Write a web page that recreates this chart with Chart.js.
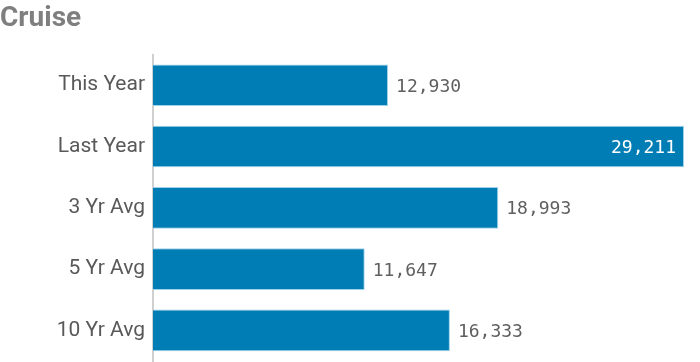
<!DOCTYPE html>
<html>
<head>
<meta charset="utf-8">
<script src="https://cdn.jsdelivr.net/npm/chart.js@4"></script>
<style>
  html, body { margin: 0; padding: 0; background: #fff; }
  #wrap { width: 700px; height: 362px; }
</style>
</head>
<body>
<div id="wrap"><canvas id="barChart" width="700" height="362"></canvas></div>
<script>
const categories = ['This Year', 'Last Year', '3 Yr Avg', '5 Yr Avg', '10 Yr Avg'];
const values = [12930, 29211, 18993, 11647, 16333];

// value labels: outside the bar, or inside in white when there's no room
const valueLabels = {
  id: 'valueLabels',
  afterDatasetsDraw(chart) {
    const ctx = chart.ctx;
    const meta = chart.getDatasetMeta(0);
    ctx.save();
    ctx.font = '18px "DejaVu Sans Mono", monospace';
    ctx.textBaseline = 'middle';
    meta.data.forEach((bar, i) => {
      const txt = values[i].toLocaleString('en-US');
      const w = ctx.measureText(txt).width;
      if (bar.x + 8 + w > chart.width - 2) {
        ctx.fillStyle = '#ffffff';
        ctx.textAlign = 'right';
        ctx.fillText(txt, bar.x - 8, bar.y + 2);
      } else {
        ctx.fillStyle = '#5f5f5f';
        ctx.textAlign = 'left';
        ctx.fillText(txt, bar.x + 8, bar.y + 2);
      }
    });
    ctx.restore();
  }
};

const bctx = document.getElementById('barChart').getContext('2d');
const barChart = new Chart(bctx, {
  type: 'bar',
  data: {
    labels: categories,
    datasets: [{
      label: 'Cruise',
      data: values,
      backgroundColor: '#007db5',
      borderColor: '#9fd0ea',
      borderWidth: 1,
      borderSkipped: 'left',
      barPercentage: 0.68,
      categoryPercentage: 1.0
    }]
  },
  options: {
    indexAxis: 'y',
    responsive: false,
    animation: false,
    layout: { padding: { left: 0, right: 16, top: 0, bottom: 1 } },
    plugins: {
      legend: { display: false },
      tooltip: { enabled: false },
      title: {
        display: true,
        text: 'Cruise',
        align: 'start',
        color: '#7f7f7f',
        font: { family: 'Roboto', size: 28, weight: 'bold' },
        padding: { top: 2, bottom: 19 }
      }
    },
    scales: {
      x: {
        display: false,
        min: 0,
        max: 29211
      },
      y: {
        grid: { display: false },
        border: { display: true, color: '#d0d0d0', width: 2 },
        ticks: {
          color: '#595959',
          font: { family: 'Roboto', size: 21 },
          padding: 0
        },
        afterFit(scale) {
          scale.width = 153;
          scale.paddingTop = 0;
          scale.paddingBottom = 0;
        }
      }
    }
  },
  plugins: [valueLabels]
});
</script>
</body>
</html>
